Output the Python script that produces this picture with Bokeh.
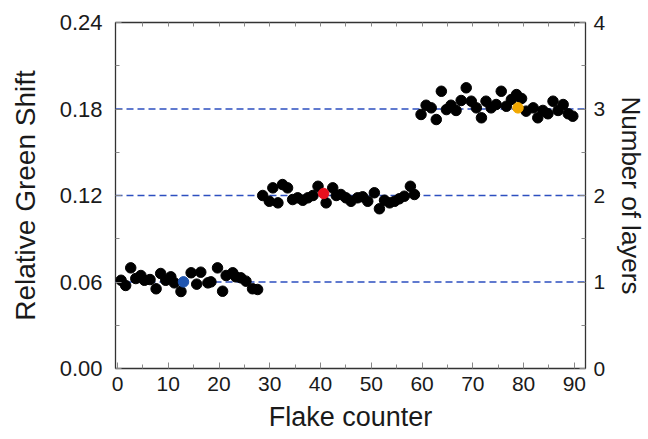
from bokeh.plotting import figure
from bokeh.models import Range1d, LinearAxis, Span, FixedTicker, PrintfTickFormatter
from bokeh.embed import file_html
from bokeh.resources import INLINE

# ---- data ----
flake_1L = [0.7, 1.6, 2.6, 3.6, 4.6, 5.3, 6.4, 7.6, 8.5, 9.5, 10.5, 11.2, 12.5, 14.5, 15.6,
            16.4, 17.8, 18.4, 19.7, 20.7, 21.4, 22.7, 23.3, 24.3, 25.3, 26.6, 27.6]
shift_1L = [0.0612, 0.0576, 0.0698, 0.0624, 0.0645, 0.0612, 0.0617, 0.0553, 0.0659, 0.0612,
            0.0636, 0.0594, 0.0534, 0.0664, 0.0585, 0.0668, 0.0594, 0.0601, 0.0698, 0.0536,
            0.0645, 0.0664, 0.0636, 0.0629, 0.0606, 0.0553, 0.0548]

flake_2L = [28.6, 29.9, 30.6, 31.6, 32.5, 33.5, 34.5, 35.5, 36.5, 37.5, 38.5, 39.5, 41.1, 42.4,
            43.1, 44.0, 45.0, 46.0, 47.3, 48.3, 49.3, 50.6, 51.6, 52.6, 53.6, 54.6, 55.5, 56.5,
            57.7, 58.5]
shift_2L = [0.120, 0.116, 0.1253, 0.1149, 0.1276, 0.1253, 0.1172, 0.1184, 0.1167, 0.1184,
            0.120, 0.1264, 0.1149, 0.1253, 0.120, 0.1207, 0.1184, 0.116, 0.1184, 0.1191,
            0.116, 0.1219, 0.1108, 0.1167, 0.1149, 0.116, 0.1177, 0.1195, 0.1264, 0.1207]

flake_3L = [59.8, 60.8, 61.8, 62.8, 63.8, 64.8, 65.7, 66.7, 67.7, 68.7, 69.7, 70.7, 71.7, 72.6,
            73.6, 74.6, 75.6, 76.6, 77.6, 78.6, 79.6, 80.5, 81.9, 82.8, 83.8, 84.8, 85.8, 86.8,
            87.8, 88.8, 89.7]
shift_3L = [0.1762, 0.1826, 0.1808, 0.1727, 0.1923, 0.1796, 0.1826, 0.1790, 0.1859, 0.1947,
            0.1854, 0.1808, 0.1739, 0.1854, 0.1808, 0.1831, 0.1923, 0.1819, 0.1866, 0.1900,
            0.1873, 0.1785, 0.1808, 0.1739, 0.1790, 0.1767, 0.1854, 0.1790, 0.1831, 0.1767,
            0.1750]

highlight_flake = [13.0, 40.6, 78.9]
highlight_shift = [0.0601, 0.1214, 0.1808]
highlight_color = ["#1f55b0", "#e8101e", "#f2a800"]

layer_levels = [1, 2, 3]
x_ticks = [0, 10, 20, 30, 40, 50, 60, 70, 80, 90]
x_minor = [5, 15, 25, 35, 45, 55, 65, 75, 85]
x_top_ticks = [5, 10, 15, 20, 25, 30, 35, 40, 45, 50, 55, 60, 65, 70, 75, 80, 85, 90]
y_ticks = [0.0, 0.06, 0.12, 0.18, 0.24]
y_minor = [0.03, 0.09, 0.15, 0.21]
layer_ticks = [0, 1, 2, 3, 4]
layer_minor = [0.5, 1.5, 2.5, 3.5]

FONT = "Liberation Sans"
TXT = "#1a1a1a"

p = figure(frame_width=470, frame_height=346, output_backend="svg", toolbar_location=None,
           x_range=Range1d(-0.4, 92.2), y_range=Range1d(0, 0.24),
           min_border_left=115, min_border_right=58, min_border_top=22, min_border_bottom=66)
p.extra_y_ranges = {"layers": Range1d(0, 4)}
p.background_fill_color = "white"
p.border_fill_color = "white"
p.outline_line_color = "#333333"
p.outline_line_width = 1.3
p.grid.visible = False

bottom = p.below[0]
left = p.left[0]
bottom.axis_label = "Flake counter"
left.axis_label = "Relative Green Shift"

right = LinearAxis(y_range_name="layers", axis_label="Number of layers")
p.add_layout(right, "right")
top = LinearAxis()
p.add_layout(top, "above")

bottom.ticker = FixedTicker(ticks=x_ticks, minor_ticks=x_minor)
left.ticker = FixedTicker(ticks=y_ticks, minor_ticks=y_minor)
left.formatter = PrintfTickFormatter(format="%.2f")
right.ticker = FixedTicker(ticks=layer_ticks, minor_ticks=layer_minor)
top.ticker = FixedTicker(ticks=[], minor_ticks=x_top_ticks)

for ax in [bottom, left, right, top]:
    ax.axis_line_color = None
    ax.major_tick_in = 6
    ax.major_tick_out = 0
    ax.minor_tick_in = 4
    ax.minor_tick_out = 0
    ax.major_tick_line_color = "#888888"
    ax.minor_tick_line_color = "#888888"
    ax.major_label_text_font = FONT
    ax.major_label_text_font_size = "21px"
    ax.major_label_text_color = TXT
    ax.axis_label_text_font = FONT
    ax.axis_label_text_font_style = "normal"
    ax.axis_label_text_color = TXT

top.major_label_standoff = 0

bottom.major_label_standoff = 8
bottom.axis_label_text_font_size = "27px"
bottom.axis_label_standoff = 8
left.major_label_text_font_size = "22px"
left.major_label_standoff = 13
left.axis_label_text_font_size = "28px"
left.axis_label_standoff = 16
right.major_label_standoff = 8
right.axis_label_text_font_size = "26px"
right.axis_label_standoff = 8

for lv in layer_levels:
    p.add_layout(Span(location=lv, dimension="width", y_range_name="layers",
                      line_color="#2d4fc0", line_dash="7 4", line_width=1.3, level="underlay"))

for xs, ys in [(flake_1L, shift_1L), (flake_2L, shift_2L), (flake_3L, shift_3L)]:
    p.scatter(xs, ys, size=10.5, fill_color="black", line_color="black")
p.scatter(highlight_flake, highlight_shift, size=10.5, fill_color=highlight_color,
          line_color=highlight_color)

open("out.html", "w").write(file_html(p, INLINE))
